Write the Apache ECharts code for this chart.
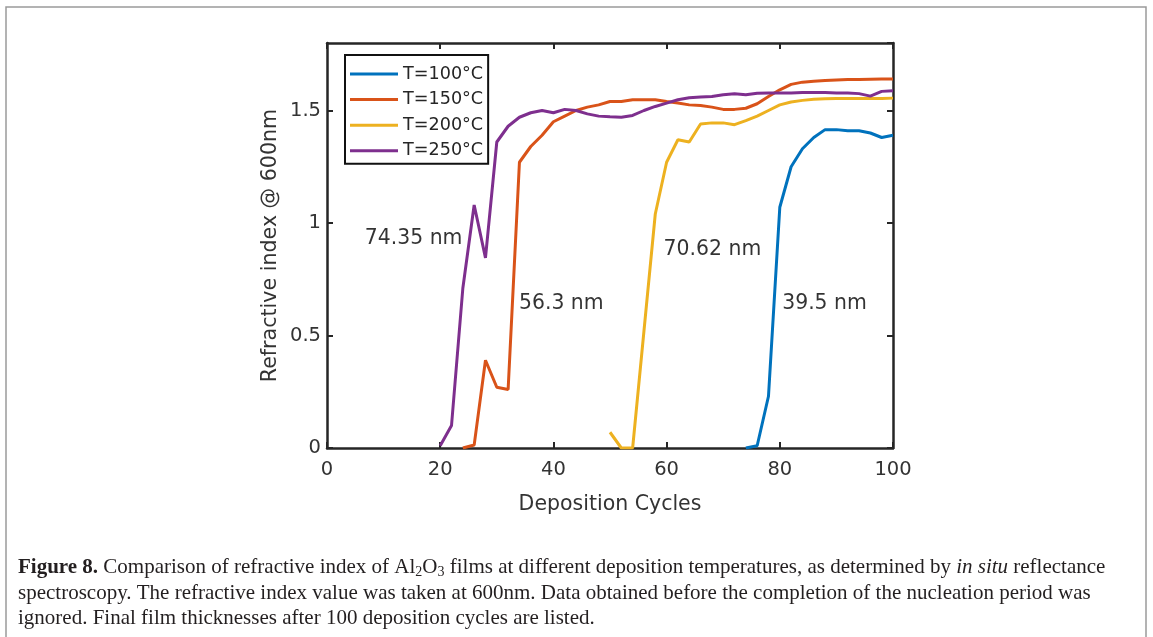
<!DOCTYPE html>
<html>
<head>
<meta charset="utf-8">
<script src="https://cdn.jsdelivr.net/npm/echarts@6/dist/echarts.min.js"></script>
<style>
  html, body { margin: 0; padding: 0; background: #fff; }
  #main { width: 1153px; height: 637px; }
</style>
</head>
<body>
<div id="main"></div>
<script>
// deposition cycles and refractive index (@600nm)
const cycles100 = [74, 76, 78, 80, 82, 84, 86, 88, 90, 92, 94, 96, 98, 100];
const n100 = [0, 0.01, 0.23, 1.07, 1.25, 1.33, 1.38, 1.415, 1.415, 1.41, 1.41, 1.40, 1.38, 1.39];

const cycles150 = [24, 26, 28, 30, 32, 34, 36, 38, 40, 42, 44, 46, 48, 50, 52, 54, 56, 58, 60, 62,
  64, 66, 68, 70, 72, 74, 76, 78, 80, 82, 84, 86, 88, 90, 92, 94, 96, 98, 100];
const n150 = [0, 0.013, 0.39, 0.27, 0.26, 1.27, 1.34, 1.39, 1.45, 1.475, 1.50, 1.515, 1.525, 1.54, 1.54, 1.548, 1.548, 1.548, 1.54, 1.533,
  1.525, 1.522, 1.515, 1.505, 1.505, 1.51, 1.53, 1.562, 1.592, 1.616, 1.626, 1.63, 1.633, 1.636, 1.638, 1.638, 1.639, 1.64, 1.64];

const cycles200 = [50, 52, 54, 56, 58, 60, 62, 64, 66, 68, 70, 72, 74, 76, 78, 80, 82, 84, 86, 88, 90, 92, 94, 96, 98, 100];
const n200 = [0.07, 0, 0, 0.52, 1.04, 1.27, 1.37, 1.36, 1.44, 1.445, 1.445, 1.437, 1.455, 1.475, 1.50, 1.525, 1.538, 1.545, 1.55, 1.552,
  1.553, 1.553, 1.553, 1.553, 1.553, 1.555];

const cycles250 = [20, 22, 24, 26, 28, 30, 32, 34, 36, 38, 40, 42, 44, 46, 48, 50, 52, 54, 56, 58, 60,
  62, 64, 66, 68, 70, 72, 74, 76, 78, 80, 82, 84, 86, 88, 90, 92, 94, 96, 98, 100];
const n250 = [0.01, 0.1, 0.71, 1.08, 0.845, 1.36, 1.43, 1.47, 1.49, 1.50, 1.49, 1.505, 1.50, 1.485, 1.475, 1.472, 1.47, 1.478, 1.50, 1.518, 1.533,
  1.548, 1.557, 1.56, 1.562, 1.57, 1.574, 1.57, 1.577, 1.578, 1.578, 1.578, 1.58, 1.58, 1.58, 1.578, 1.578, 1.575, 1.564, 1.585, 1.588];

const seriesNames = ['T=100°C', 'T=150°C', 'T=200°C', 'T=250°C'];
const colors = ['#0072BD', '#D95319', '#EDB120', '#7E2F8E'];

// final thickness labels, placed in data units
const thickLabels = ['74.35 nm', '56.3 nm', '70.62 nm', '39.5 nm'];
const thickAt = [[15.3, 0.93], [41.4, 0.64], [68.1, 0.88], [87.9, 0.64]];

const captionLines = [
  '{b|Figure 8.} Comparison of refractive index of Al{sub|2}O{sub|3} films at different deposition temperatures, as determined by {i|in situ} reflectance',
  'spectroscopy. The refractive index value was taken at 600nm. Data obtained before the completion of the nucleation period was',
  'ignored. Final film thicknesses after 100 deposition cycles are listed.'
];

const font = 'DejaVu Sans';
const capFont = 'Liberation Serif';
const pair = (xs, ys) => xs.map((x, i) => [x, ys[i]]);
const allData = [pair(cycles100, n100), pair(cycles150, n150), pair(cycles200, n200), pair(cycles250, n250)];

const axisLine = { show: true, onZero: false, lineStyle: { color: '#262626', width: 2.5 } };
const tickIn = { show: true, inside: true, length: 6, lineStyle: { color: '#262626', width: 2 } };

const chart = echarts.init(document.getElementById('main'));

const series = allData.map((d, i) => ({
  name: seriesNames[i],
  type: 'line',
  data: d,
  symbol: 'none',
  lineStyle: { width: 3, color: colors[i] },
  itemStyle: { color: colors[i] },
  z: 3 + i
}));
series.push({
  name: 'labels',
  type: 'scatter',
  data: thickAt.map((p, i) => ({ value: p, name: thickLabels[i] })),
  symbolSize: 0,
  silent: true,
  label: {
    show: true, position: 'inside', formatter: p => p.name,
    fontFamily: font, fontSize: 20.4, color: '#000'
  },
  z: 10
});

const caption = captionLines.map((t, i) => ({
  type: 'text',
  left: 18,
  top: 557 + i * 25.5,
  style: {
    text: t,
    fontFamily: capFont,
    fontSize: 21,
    fill: '#231f20',
    rich: {
      b: { fontFamily: capFont, fontSize: 21, fontWeight: 'bold', fill: '#231f20' },
      i: { fontFamily: capFont, fontSize: 21, fontStyle: 'italic', fill: '#231f20' },
      sub: { fontFamily: capFont, fontSize: 14, fill: '#231f20', padding: [10, 0, 0, 0] }
    }
  }
}));

chart.setOption({
  animation: false,
  backgroundColor: '#fff',
  color: colors,
  grid: { left: 327, right: 260, top: 43, bottom: 189, containLabel: false },
  legend: {
    data: seriesNames,
    orient: 'vertical',
    left: 345, top: 55,
    padding: [9, 5, 3, 5],
    itemWidth: 48, itemHeight: 3, itemGap: 5.6, itemTextGap: 4,
    icon: 'rect',
    borderColor: '#111', borderWidth: 2,
    backgroundColor: '#fff',
    textStyle: { fontFamily: font, fontSize: 17.6, color: '#262626', lineHeight: 20 }
  },
  xAxis: [{
    type: 'value', min: 0, max: 100, interval: 20,
    name: 'Deposition Cycles', nameLocation: 'middle', nameGap: 46,
    nameTextStyle: { fontFamily: font, fontSize: 20.5, color: '#333' },
    axisLine: axisLine, axisTick: tickIn,
    axisLabel: { fontFamily: font, fontSize: 19.5, color: '#333', margin: 12 },
    splitLine: { show: false }
  }, {
    type: 'value', min: 0, max: 100, interval: 20, position: 'top',
    axisLine: axisLine, axisTick: tickIn, axisLabel: { show: false }, splitLine: { show: false }
  }],
  yAxis: [{
    type: 'value', min: 0, max: 1.8, interval: 0.5,
    name: 'Refractive index @ 600nm', nameLocation: 'middle', nameGap: 46,
    nameTextStyle: { fontFamily: font, fontSize: 20.6, color: '#333' },
    axisLine: axisLine, axisTick: tickIn,
    axisLabel: { fontFamily: font, fontSize: 19.5, color: '#333', margin: 6, showMaxLabel: false },
    splitLine: { show: false }
  }, {
    type: 'value', min: 0, max: 1.8, interval: 0.5, position: 'right',
    axisLine: axisLine, axisTick: tickIn, axisLabel: { show: false }, splitLine: { show: false }
  }],
  series: series,
  graphic: [{
    type: 'rect',
    shape: { x: 6, y: 7, width: 1140, height: 650 },
    style: { fill: 'none', stroke: '#9a9a9a', lineWidth: 1.5 },
    silent: true
  }].concat(caption)
});
</script>
</body>
</html>
